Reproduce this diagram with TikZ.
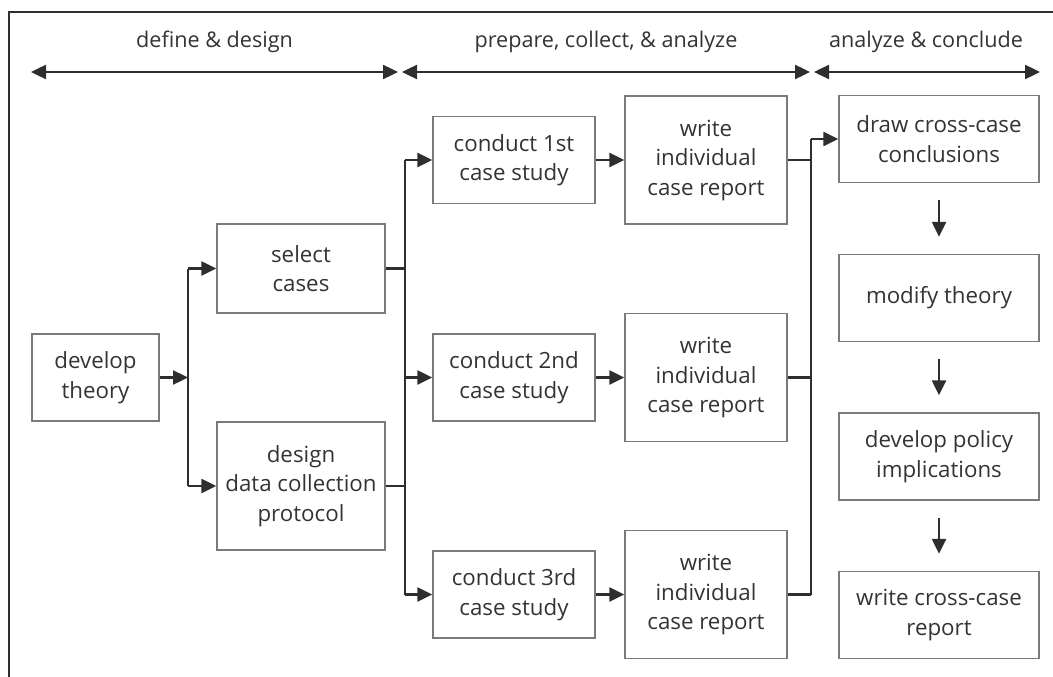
\documentclass[tikz,border=0pt]{standalone}
\usepackage{fontspec}
\setmainfont{Open Sans}
\usetikzlibrary{arrows.meta}
\definecolor{txt}{HTML}{333333}
\definecolor{boxc}{HTML}{7A7A7A}
\definecolor{linec}{HTML}{2E2E2E}
\begin{document}
\begin{tikzpicture}[x=1pt,y=-1pt,
  box/.style={draw=boxc,line width=1.4pt,inner sep=0pt,align=center,text=txt,
    font=\fontsize{22.3}{29.5}\selectfont,minimum width=162pt,minimum height=87pt},
  tall/.style={minimum height=128pt},
  wide/.style={minimum width=200pt},
  ln/.style={draw=linec,line width=2.4pt},
  arr/.style={ln,-{Triangle[length=15pt,width=14pt]}},
  darr/.style={ln,{Triangle[length=15pt,width=14pt]}-{Triangle[length=15pt,width=14pt]}},
  phase/.style={text=txt,font=\fontsize{21.6}{26}\selectfont,anchor=base,inner sep=0pt}]
\useasboundingbox (0,0) rectangle (1053,677);
% frame
\coordinate (fr1) at (9,677);
\coordinate (fr2) at (9,12);
\coordinate (fr3) at (1053,12);
\draw[draw=linec,line width=2pt] (fr1) -- (fr2) -- (fr3);
% phases
\coordinate (p1l) at (31,72); \coordinate (p1r) at (398,72);
\coordinate (p2l) at (402,72); \coordinate (p2r) at (810,72);
\coordinate (p3l) at (814,72); \coordinate (p3r) at (1040,72);
\draw[darr] (p1l) -- (p1r);
\draw[darr] (p2l) -- (p2r);
\draw[darr] (p3l) -- (p3r);
\node[phase] (t1) at (214.5,48) {define \& design};
\node[phase] (t2) at (606,48) {prepare, collect, \& analyze};
\node[phase] (t3) at (926,48) {analyze \& conclude};
% boxes
\node[box,minimum width=127pt] (dt) at (95.5,377.5) {develop\\theory};
\node[box,minimum width=168pt,minimum height=89pt] (sel) at (301,268.5) {select\\cases};
\node[box,tall,minimum width=168pt] (des) at (301,486) {design\\data collection\\protocol};
\node[box] (c1) at (514,160) {conduct 1st\\case study};
\node[box] (c2) at (514,377.5) {conduct 2nd\\case study};
\node[box] (c3) at (514,594.5) {conduct 3rd\\case study};
\node[box,tall] (w1) at (706,160) {write\\individual\\case report};
\node[box,tall] (w2) at (706,377.5) {write\\individual\\case report};
\node[box,tall] (w3) at (706,594.5) {write\\individual\\case report};
\node[box,wide] (dc) at (939,139) {draw cross-case\\conclusions};
\node[box,wide] (mt) at (939,298) {modify theory};
\node[box,wide] (dp) at (939,456.5) {develop policy\\implications};
\node[box,wide] (wc) at (939,615) {write cross-case\\report};
% junctions
\coordinate (b1) at (188,0);
\coordinate (b2) at (405,0);
\coordinate (b3) at (811,0);
% develop theory -> select / design
\draw[arr] (dt.east) -- (dt.east -| b1);
\draw[ln] (sel.west -| b1) -- (des.west -| b1);
\draw[arr] (sel.west -| b1) -- (sel.west);
\draw[arr] (des.west -| b1) -- (des.west);
% select / design -> conduct
\draw[ln] (sel.east) -- (sel.east -| b2);
\draw[ln] (des.east) -- (des.east -| b2);
\draw[ln] (c1.west -| b2) -- (c3.west -| b2);
\draw[arr] (c1.west -| b2) -- (c1.west);
\draw[arr] (c2.west -| b2) -- (c2.west);
\draw[arr] (c3.west -| b2) -- (c3.west);
% conduct -> write
\draw[arr] (c1) -- (w1);
\draw[arr] (c2) -- (w2);
\draw[arr] (c3) -- (w3);
% write -> draw cross-case
\draw[ln] (w1.east) -- (w1.east -| b3);
\draw[ln] (w2.east) -- (w2.east -| b3);
\draw[ln] (w3.east) -- (w3.east -| b3);
\draw[ln] (w3.east -| b3) -- (dc.west -| b3);
\draw[arr] (dc.west -| b3) -- (dc.west);
% right column
\draw[arr] ([yshift=-17pt]dc.south) -- ([yshift=17pt]mt.north);
\draw[arr] ([yshift=-17pt]mt.south) -- ([yshift=17pt]dp.north);
\draw[arr] ([yshift=-17pt]dp.south) -- ([yshift=17pt]wc.north);
\end{tikzpicture}
\end{document}
